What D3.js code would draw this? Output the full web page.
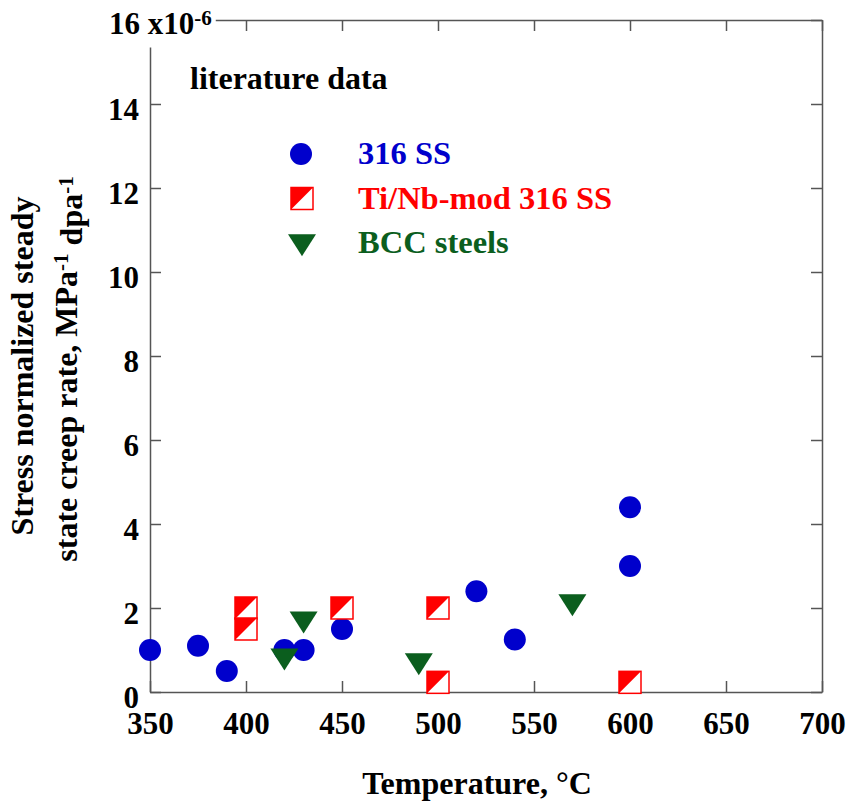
<!DOCTYPE html>
<html>
<head>
<meta charset="utf-8">
<script src="https://cdn.jsdelivr.net/npm/d3@7"></script>
<style>
  body { margin: 0; background: #fff; }
  text { font-family: "Liberation Serif", "Times New Roman", serif; font-weight: bold; }
</style>
</head>
<body>
<div id="chart"></div>
<script>
// Data (rate values are in units of 1e-6 MPa^-1 dpa^-1)
const ss316Temp = [350, 375, 390, 420, 430, 450, 520, 540, 600, 600]
const ss316Rate = [1.0, 1.1, 0.5, 1.0, 1.0, 1.5, 2.4, 1.25, 4.4, 3.0]

const tiNbTemp = [400, 400, 450, 500, 500, 600]
const tiNbRate = [2.0, 1.5, 2.0, 2.0, 0.23, 0.23]

const bccTemp = [420, 430, 490, 570]
const bccRate = [0.86, 1.74, 0.75, 2.15]

const xTicks = [350, 400, 450, 500, 550, 600, 650, 700]
const yTicks = [0, 2, 4, 6, 8, 10, 12, 14, 16]

const legendNames = ['316 SS', 'Ti/Nb-mod 316 SS', 'BCC steels']

const blue = '#0000cc'
const red = '#ff0000'
const green = '#0b5e1e'
const fontFam = '"Liberation Serif", "Times New Roman", serif'

// Dimensions
let dimensions = {
  width: 850,
  height: 802,
  margin: { top: 20, bottom: 110, left: 150, right: 28 }
}
const cw = dimensions.width - dimensions.margin.left - dimensions.margin.right
const ch = dimensions.height - dimensions.margin.top - dimensions.margin.bottom

const svg = d3.select('#chart')
  .append('svg')
  .attr('width', dimensions.width)
  .attr('height', dimensions.height)

const container = svg.append('g')
  .attr('transform', `translate(${dimensions.margin.left},${dimensions.margin.top})`)

// Scales
const xScale = d3.scaleLinear().domain([350, 700]).range([0, cw])
const yScale = d3.scaleLinear().domain([0, 16]).range([ch, 0])

// Axes
const axisColor = '#555'
function styleAxis(g) {
  g.attr('font-family', fontFam).attr('font-weight', 'bold')
  g.select('.domain').attr('stroke', axisColor).attr('stroke-width', 1.5)
  g.selectAll('.tick line').attr('stroke', axisColor).attr('stroke-width', 1.5)
}

container.append('g')
  .attr('transform', `translate(0,${ch})`)
  .call(d3.axisBottom(xScale).tickValues(xTicks).tickSize(-11).tickSizeOuter(0).tickPadding(20))
  .call(styleAxis)
  .selectAll('text')
  .attr('font-size', '31px')
  .attr('fill', '#000')

container.append('g')
  .call(d3.axisTop(xScale).tickValues(xTicks).tickSize(-11).tickSizeOuter(0).tickFormat(''))
  .call(styleAxis)

container.append('g')
  .attr('transform', `translate(${cw},0)`)
  .call(d3.axisRight(yScale).tickValues(yTicks).tickSize(-11).tickSizeOuter(0).tickFormat(''))
  .call(styleAxis)

const yAxisGroup = container.append('g')
  .call(d3.axisLeft(yScale).tickValues(yTicks).tickSize(-11).tickSizeOuter(0).tickPadding(11))
  .call(styleAxis)
yAxisGroup.selectAll('text')
  .attr('font-size', '31px')
  .attr('fill', '#000')
  .attr('dy', '0.5em')

// top label "16 x10^-6" sits over the corner with a white patch behind it
const topTick = yAxisGroup.selectAll('.tick').filter(d => d === 16)
const topText = topTick.select('text')
topText.attr('text-anchor', 'start').attr('x', -41).attr('dy', '0.45em')
topText.append('tspan').text(' x10')
topText.append('tspan').attr('dy', '-0.45em').attr('font-size', '21px').text('-6')
const bb = topText.node().getBBox()
topTick.insert('rect', 'text')
  .attr('x', bb.x - 2)
  .attr('y', -20)
  .attr('width', bb.width + 6)
  .attr('height', 47)
  .attr('fill', '#fff')

// Markers
const triShape = {
  draw(ctx, size) {
    const w = 14, h = 22
    ctx.moveTo(-w, -h / 3)
    ctx.lineTo(w, -h / 3)
    ctx.lineTo(0, 2 * h / 3)
    ctx.closePath()
  }
}
const triPath = d3.symbol().type(triShape)()

function drawSquare(g, cx, cy) {
  const s = 11
  g.append('rect')
    .attr('x', cx - s).attr('y', cy - s)
    .attr('width', 2 * s).attr('height', 2 * s)
    .attr('fill', '#fff').attr('stroke', red).attr('stroke-width', 1.5)
  g.append('path')
    .attr('d', `M${cx - s},${cy - s}L${cx + s},${cy - s}L${cx - s},${cy + s}Z`)
    .attr('fill', red)
}

const ssData = ss316Temp.map((t, i) => ({ t, v: ss316Rate[i] }))
const tiData = tiNbTemp.map((t, i) => ({ t, v: tiNbRate[i] }))
const bccData = bccTemp.map((t, i) => ({ t, v: bccRate[i] }))

container.selectAll('circle.ss')
  .data(ssData)
  .join('circle')
  .attr('class', 'ss')
  .attr('cx', d => xScale(d.t))
  .attr('cy', d => yScale(d.v))
  .attr('r', 11)
  .attr('fill', blue)

const sqGroup = container.append('g')
tiData.forEach(d => drawSquare(sqGroup, xScale(d.t), yScale(d.v)))

container.selectAll('path.bcc')
  .data(bccData)
  .join('path')
  .attr('class', 'bcc')
  .attr('d', triPath)
  .attr('transform', d => `translate(${xScale(d.t)},${yScale(d.v)})`)
  .attr('fill', green)

// Legend
svg.append('text')
  .attr('x', 190)
  .attr('y', 89)
  .attr('font-size', '32px')
  .text('literature data')

const legendY = [154, 198.5, 241.5]
const legendColors = [blue, red, green]
svg.append('circle').attr('cx', 301).attr('cy', legendY[0]).attr('r', 11).attr('fill', blue)
drawSquare(svg.append('g'), 302, legendY[1])
svg.append('path').attr('d', triPath)
  .attr('transform', `translate(302,${legendY[2]})`).attr('fill', green)

svg.selectAll('text.legend')
  .data(legendNames)
  .join('text')
  .attr('class', 'legend')
  .attr('x', 358)
  .attr('y', (d, i) => [164, 209, 253][i])
  .attr('font-size', '32.5px')
  .attr('fill', (d, i) => legendColors[i])
  .text(d => d)

// Axis titles
svg.append('text')
  .attr('x', 477)
  .attr('y', 794)
  .attr('text-anchor', 'middle')
  .attr('font-size', '32px')
  .text('Temperature, °C')

svg.append('text')
  .attr('transform', 'translate(33,366) rotate(-90)')
  .attr('text-anchor', 'middle')
  .attr('font-size', '32px')
  .text('Stress normalized steady')

const yt2 = svg.append('text')
  .attr('transform', 'translate(77,369) rotate(-90)')
  .attr('text-anchor', 'middle')
  .attr('font-size', '32px')
yt2.append('tspan').text('state creep rate, MPa')
yt2.append('tspan').attr('dy', '-0.45em').attr('font-size', '21px').text('-1')
yt2.append('tspan').attr('dy', '0.45em').text(' dpa')
yt2.append('tspan').attr('dy', '-0.45em').attr('font-size', '21px').text('-1')
</script>
</body>
</html>
